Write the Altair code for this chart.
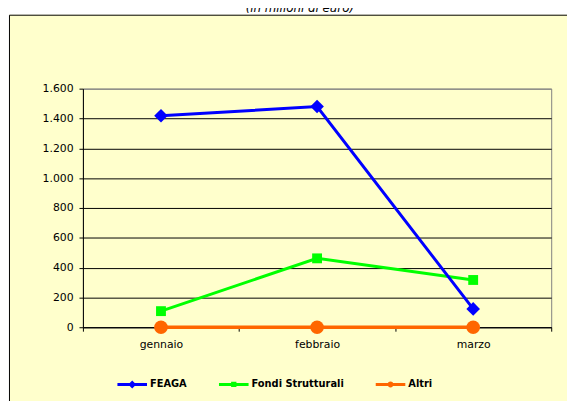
import altair as alt
import pandas as pd

# ---- data ----
months = ["gennaio", "febbraio", "marzo"]
series = ["FEAGA", "Fondi Strutturali", "Altri"]
feaga = [1418, 1480, 123]
fondi = [108, 462, 317]
altri = [0, 0, 0]
y_ticks = [0, 200, 400, 600, 800, 1000, 1200, 1400, 1600]
title_text = "(in milioni di euro)"

colors = ["#0000FF", "#00FF00", "#FF6600"]
point_shapes = ["diamond", "square", "circle"]
point_sizes = [190, 100, 190]
line_widths = [3, 3, 3.5]
legend_paths = [
    "M-1,-0.1L1,-0.1L1,0.1L-1,0.1Z M0,-0.27L0.27,0L0,0.27L-0.27,0Z",
    "M-1,-0.1L1,-0.1L1,0.1L-1,0.1Z M-0.18,-0.18L0.18,-0.18L0.18,0.18L-0.18,0.18Z",
    "M-1,-0.1L1,-0.1L1,0.1L-1,0.1Z M-0.2,0A0.2,0.2 0 1,1 0.2,0A0.2,0.2 0 1,1 -0.2,0Z",
]

rows = []
for s, vals in zip(series, [feaga, fondi, altri]):
    for m, v in zip(months, vals):
        rows.append({"mese": m, "serie": s, "valore": v})
df = pd.DataFrame(rows)

W, H = 475, 242
FONT = "DejaVu Sans"

x_enc = alt.X(
    "mese:N", sort=months,
    scale=alt.Scale(type="band", paddingInner=0, paddingOuter=0),
    axis=alt.Axis(title=None, tickBand="extent", labelAngle=0, grid=False,
                  tickSize=4, labelPadding=8, domainColor="black", tickColor="black",
                  labelFont=FONT, labelFontSize=11, labelColor="black"),
)
y_enc = alt.Y(
    "valore:Q",
    scale=alt.Scale(domain=[0, 1600], nice=False, zero=True),
    axis=alt.Axis(title=None, values=y_ticks, tickSize=4, labelPadding=6,
                  labelExpr="replace(format(datum.value, ','), ',', '.')",
                  grid=True,
                  gridColor={"condition": {"test": "datum.value === 1600", "value": "#808080"},
                             "value": "#000000"},
                  gridWidth=1, domainColor="black", tickColor="black",
                  labelFont=FONT, labelFontSize=11, labelColor="black"),
)
color_scale = alt.Scale(domain=series, range=colors)

base = alt.Chart(df)

# decoration: white strip above the box and the box border
white_top = alt.Chart(pd.DataFrame({"k": [0]})).mark_rect(fill="white").encode(
    x=alt.value(-90), x2=alt.value(520), y=alt.value(-90), y2=alt.value(-75))
white_left = alt.Chart(pd.DataFrame({"k": [0]})).mark_rect(fill="white").encode(
    x=alt.value(-90), x2=alt.value(-75), y=alt.value(-90), y2=alt.value(400))
border = alt.Chart(pd.DataFrame({"k": [0]})).mark_rect(
    fill="transparent", stroke="black", strokeWidth=1).encode(
    x=alt.value(-74.5), x2=alt.value(520), y=alt.value(-74.5), y2=alt.value(400))
title_layer = alt.Chart(pd.DataFrame({"t": [title_text]})).mark_text(
    font=FONT, fontSize=12, fontStyle="italic", color="black", baseline="alphabetic").encode(
    text="t:N", x=alt.value(220), y=alt.value(-78))

layers = [white_top, white_left, border, title_layer]
order = [2, 1, 0]
for i in order:
    s = series[i]
    sub = base.transform_filter(alt.datum.serie == s)
    line = sub.mark_line(strokeWidth=line_widths[i], color=colors[i]).encode(x=x_enc, y=y_enc)
    pts = sub.mark_point(shape=point_shapes[i], size=point_sizes[i], filled=True,
                         opacity=1, color=colors[i]).encode(x=x_enc, y=y_enc)
    layers += [line, pts]

leg = alt.Legend(title=None, orient="none", legendX=35, legendY=285, direction="horizontal",
                 labelFont=FONT, labelFontSize=10, labelFontWeight="bold", labelColor="black",
                 symbolSize=900, symbolStrokeWidth=0, labelOffset=3, columnPadding=32,
                 padding=0)
legend_layer = base.transform_filter("false").mark_point(
    filled=True, size=900, opacity=1, strokeWidth=0).encode(
    x=x_enc, y=y_enc,
    color=alt.Color("serie:N", scale=color_scale, legend=leg),
    shape=alt.Shape("serie:N", scale=alt.Scale(domain=series, range=legend_paths), legend=leg),
)
layers.append(legend_layer)

chart = alt.layer(*layers).properties(
    width=W, height=H,
    autosize=alt.AutoSizeParams(type="none"),
    padding={"left": 76, "top": 79, "right": 16, "bottom": 72},
    background="#FFFFCC",
).configure_view(stroke="#808080", strokeWidth=1)

chart.save("out.html", embed_options={"renderer": "svg", "actions": False})
